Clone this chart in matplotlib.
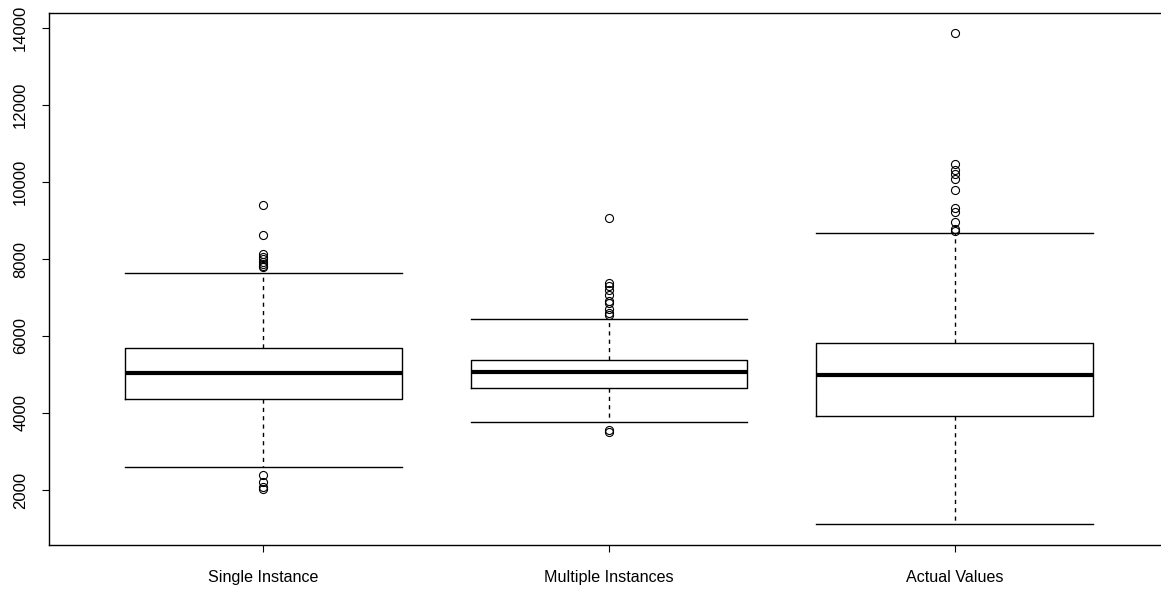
"""
Boxplots of single vs multiple instance predictions against the actual values.
"""

import matplotlib
matplotlib.use('Agg')
import matplotlib.pyplot as plt

labels = ['Single Instance', 'Multiple Instances', 'Actual Values']

# Five-number summaries for each group
q1 = [4360, 4650, 3920]
med = [5030, 5060, 4980]
q3 = [5690, 5380, 5820]
whislo = [2590, 3770, 1120]
whishi = [7640, 6450, 8680]

# Points beyond the whiskers
fliers_single = [9400, 8620, 8120, 8060, 7990, 7930, 7880, 7830, 7790, 2390, 2200, 2080, 2030]
fliers_multiple = [9060, 7380, 7300, 7200, 7060, 6900, 6850, 6700, 6600, 6550, 3560, 3500]
fliers_actual = [13880, 10480, 10320, 10200, 10080, 9780, 9330, 9230, 8950, 8780, 8740]
fliers = [fliers_single, fliers_multiple, fliers_actual]

plt.rcParams['font.family'] = ['Liberation Sans', 'DejaVu Sans']

fig = plt.figure(figsize=(11.61, 5.90), dpi=100)
ax = fig.add_axes([49 / 1161, 45 / 590, (1169 - 49) / 1161, (545 - 13) / 590])

stats = []
for i in range(len(labels)):
    stats.append({
        'label': labels[i],
        'q1': q1[i], 'med': med[i], 'q3': q3[i],
        'whislo': whislo[i], 'whishi': whishi[i],
        'fliers': fliers[i],
    })

positions = [1, 2, 3]
ax.bxp(stats, positions=positions, widths=0.8, capwidths=0.8,
       showfliers=True, patch_artist=False,
       boxprops=dict(color='black', linewidth=1.0),
       medianprops=dict(color='black', linewidth=3.0, solid_capstyle='butt'),
       whiskerprops=dict(color='black', linewidth=1.0, linestyle=(0, (3, 3))),
       capprops=dict(color='black', linewidth=1.0),
       flierprops=dict(marker='o', markerfacecolor='none', markeredgecolor='black',
                       markersize=5.8, markeredgewidth=0.8, linestyle='none'))

# Axis ranges padded like base R graphics
ax.set_xlim(0.38, 3.62)
ax.set_ylim(571, 14390)
ax.set_yticks([2000, 4000, 6000, 8000, 10000, 12000, 14000])
ax.set_xticks(positions)
ax.set_xticklabels(labels)

ax.tick_params(axis='y', labelrotation=90, length=5, width=0.8, pad=10, labelsize=12)
ax.tick_params(axis='x', length=5, width=0.8, pad=13, labelsize=11.6)
for lab in ax.get_yticklabels():
    lab.set_va('center')

for side in ['top', 'bottom', 'left', 'right']:
    ax.spines[side].set_color('black')
    ax.spines[side].set_linewidth(1.0)

fig.savefig('out.png', dpi=100)
